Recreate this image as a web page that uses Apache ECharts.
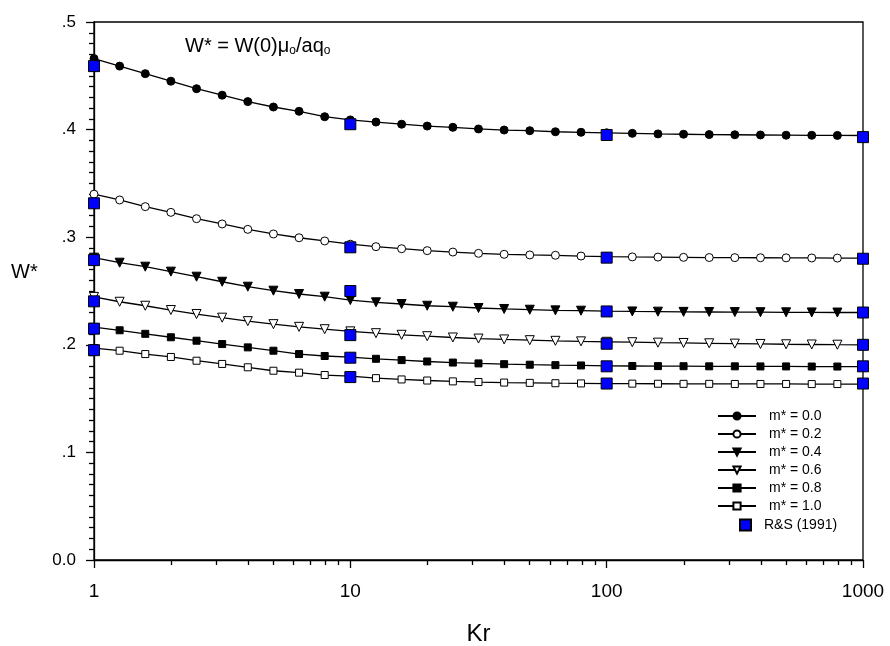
<!DOCTYPE html>
<html>
<head>
<meta charset="utf-8">
<script src="https://cdn.jsdelivr.net/npm/echarts@6/dist/echarts.min.js"></script>
<style>
  html, body { margin: 0; padding: 0; background: #fff; }
  #chart { width: 890px; height: 646px; }
</style>
</head>
<body>
<div id="chart"></div>
<script>
// Kr sample points, ten per decade from 1 to 1000
const kr = [
  1, 1.259, 1.585, 1.995, 2.512, 3.162, 3.981, 5.012, 6.310, 7.943,
  10, 12.59, 15.85, 19.95, 25.12, 31.62, 39.81, 50.12, 63.10, 79.43,
  100, 125.9, 158.5, 199.5, 251.2, 316.2, 398.1, 501.2, 631.0, 794.3,
  1000
];

// W* for each m*
const w_m00 = [
  0.466, 0.459, 0.452, 0.445, 0.438, 0.432, 0.426, 0.421, 0.417, 0.412,
  0.409, 0.407, 0.405, 0.4033, 0.4021, 0.4006, 0.3996, 0.3990, 0.3980, 0.3975,
  0.3970, 0.3965, 0.3960, 0.3957, 0.3954, 0.3952, 0.3950, 0.3948, 0.3947, 0.3946,
  0.3945
];
const w_m02 = [
  0.340, 0.3346, 0.3284, 0.3231, 0.3172, 0.3123, 0.3073, 0.3030, 0.2995, 0.2965,
  0.2935, 0.2912, 0.2893, 0.2875, 0.2862, 0.2850, 0.2841, 0.2835, 0.2832, 0.2825,
  0.2820, 0.2817, 0.2815, 0.2813, 0.2811, 0.2810, 0.2809, 0.2808, 0.2807, 0.2806,
  0.2805
];
const w_m04 = [
  0.281, 0.2763, 0.2726, 0.2680, 0.2633, 0.2586, 0.2540, 0.2503, 0.2472, 0.2447,
  0.2416, 0.2395, 0.2379, 0.2363, 0.2354, 0.2342, 0.2333, 0.2326, 0.2320, 0.2317,
  0.2313, 0.2310, 0.2308, 0.2306, 0.2305, 0.2304, 0.2303, 0.2302, 0.2301, 0.2300,
  0.2300
];
const w_m06 = [
  0.2445, 0.2400, 0.2363, 0.2323, 0.2286, 0.2252, 0.2220, 0.2192, 0.2167, 0.2145,
  0.2125, 0.2108, 0.2093, 0.2080, 0.2068, 0.2058, 0.2050, 0.2043, 0.2037, 0.2032,
  0.2028, 0.2024, 0.2020, 0.2017, 0.2014, 0.2011, 0.2008, 0.2005, 0.2003, 0.2001,
  0.2000
];
const w_m08 = [
  0.2165, 0.2135, 0.2102, 0.2070, 0.2038, 0.2007, 0.1976, 0.1945, 0.1914, 0.1896,
  0.1885, 0.1870, 0.1858, 0.1845, 0.1835, 0.1827, 0.1820, 0.1815, 0.1811, 0.1808,
  0.1805, 0.1803, 0.1802, 0.1801, 0.1800, 0.1800, 0.1799, 0.1799, 0.1798, 0.1798,
  0.1798
];
const w_m10 = [
  0.1970, 0.1945, 0.1914, 0.1887, 0.1852, 0.1822, 0.1791, 0.1759, 0.1741, 0.1719,
  0.1708, 0.1690, 0.1678, 0.1668, 0.1660, 0.1654, 0.1649, 0.1646, 0.1643, 0.1641,
  0.1640, 0.1639, 0.1638, 0.1637, 0.1637, 0.1636, 0.1636, 0.1636, 0.1635, 0.1635,
  0.1635
];

// R&S (1991) reference values at Kr = 1, 10, 100, 1000
const rsKr = [1, 10, 100, 1000];
const rs_m00 = [0.459, 0.405, 0.395, 0.393];
const rs_m02 = [0.3315, 0.2906, 0.281, 0.280];
const rs_m04 = [0.2787, 0.250, 0.231, 0.230];
const rs_m06 = [0.2404, 0.209, 0.201, 0.200];
const rs_m08 = [0.215, 0.188, 0.180, 0.180];
const rs_m10 = [0.195, 0.170, 0.164, 0.164];

const seriesNames = ['m* = 0.0', 'm* = 0.2', 'm* = 0.4', 'm* = 0.6', 'm* = 0.8', 'm* = 1.0'];
const rsName = 'R&S (1991)';

const xMinorTickValues = [2, 3, 4, 5, 6, 7, 8, 9, 20, 30, 40, 50, 60, 70, 80, 90, 200, 300, 400, 500, 600, 700, 800, 900];
const yTickLabels = ['0.0', '.1', '.2', '.3', '.4', '.5'];

const FONT = '"Liberation Sans", Arial, sans-serif';

const curves = [w_m00, w_m02, w_m04, w_m06, w_m08, w_m10];
const rsSets = [rs_m00, rs_m02, rs_m04, rs_m06, rs_m08, rs_m10];

// marker look per curve: shape, fill, rotation, size
const markerStyles = [
  { symbol: 'circle', fill: '#000', rotate: 0, size: 8 },
  { symbol: 'circle', fill: '#fff', rotate: 0, size: 8 },
  { symbol: 'triangle', fill: '#000', rotate: 180, size: 9 },
  { symbol: 'triangle', fill: '#fff', rotate: 180, size: 9 },
  { symbol: 'rect', fill: '#000', rotate: 0, size: 7 },
  { symbol: 'rect', fill: '#fff', rotate: 0, size: 7 }
];

const series = curves.map((vals, i) => ({
  name: seriesNames[i],
  type: 'line',
  xAxisIndex: 0,
  data: kr.map((k, j) => [k, vals[j]]),
  symbol: markerStyles[i].symbol,
  symbolSize: markerStyles[i].size,
  symbolRotate: markerStyles[i].rotate,
  showAllSymbol: true,
  lineStyle: { color: '#000', width: 1.3 },
  itemStyle: { color: markerStyles[i].fill, borderColor: '#000', borderWidth: 1 },
  emphasis: { disabled: true },
  animation: false,
  z: 2
}));

const rsPoints = [];
rsSets.forEach(set => set.forEach((v, j) => rsPoints.push([rsKr[j], v])));

series.push({
  name: rsName,
  type: 'scatter',
  xAxisIndex: 0,
  data: rsPoints,
  symbol: 'rect',
  symbolSize: 11,
  itemStyle: { color: '#0000ff', borderColor: '#000', borderWidth: 1, opacity: 1 },
  emphasis: { disabled: true },
  animation: false,
  z: 5
});

const chart = echarts.init(document.getElementById('chart'), null, { renderer: 'canvas' });

chart.setOption({
  backgroundColor: '#fff',
  animation: false,
  textStyle: { fontFamily: FONT, color: '#000' },
  grid: {
    left: 94, right: 27, top: 22, bottom: 86,
    containLabel: false, outerBoundsMode: 'none',
    show: true, borderColor: '#000', borderWidth: 1.3, backgroundColor: 'transparent'
  },
  xAxis: [
    {
      type: 'log', logBase: 10, min: 1, max: 1000,
      name: 'Kr', nameLocation: 'middle', nameGap: 62,
      nameTextStyle: { fontSize: 24, color: '#000', fontFamily: FONT },
      axisLine: { show: true, lineStyle: { color: '#000', width: 1.3 } },
      axisTick: { show: true, inside: false, length: 8, lineStyle: { color: '#000', width: 1.3 } },
      axisLabel: { show: true, margin: 22, fontSize: 19, color: '#000', fontFamily: FONT,
        formatter: v => String(Math.round(v)) },
      splitLine: { show: false },
      minorTick: { show: false }
    },
    {
      // decade subdivisions (2..9) placed on a log10 position scale
      type: 'value', min: 0, max: 3, position: 'bottom',
      axisLine: { show: true, lineStyle: { color: 'rgba(0,0,0,0)' } },
      axisTick: { show: true, inside: false, length: 5, lineStyle: { color: '#000', width: 1.3 },
        customValues: xMinorTickValues.map(v => Math.log10(v)) },
      axisLabel: { show: false },
      splitLine: { show: false }
    }
  ],
  yAxis: {
    type: 'value', min: 0, max: 0.5, interval: 0.1,
    axisLine: { show: true, lineStyle: { color: '#000', width: 1.3 } },
    axisTick: { show: true, inside: false, length: 8, lineStyle: { color: '#000', width: 1.3 } },
    minorTick: { show: true, splitNumber: 10, length: 5, lineStyle: { color: '#000', width: 1.3 } },
    axisLabel: { margin: 18, fontSize: 17, color: '#000', fontFamily: FONT,
      formatter: v => yTickLabels[Math.round(v * 10)] },
    splitLine: { show: false },
    minorSplitLine: { show: false }
  },
  legend: [
    {
      data: seriesNames,
      orient: 'vertical',
      left: 712, top: 404,
      itemWidth: 38, itemHeight: 9, itemGap: 4,
      selectedMode: false,
      textStyle: { fontSize: 14, color: '#000', fontFamily: FONT, padding: [0, 0, 0, 8] }
    },
    {
      data: [rsName],
      orient: 'vertical',
      left: 734, top: 513,
      itemWidth: 11, itemHeight: 11,
      selectedMode: false,
      textStyle: { fontSize: 14, color: '#000', fontFamily: FONT, padding: [0, 0, 0, 8] }
    }
  ],
  graphic: [
    {
      type: 'text', left: 11, top: 262,
      style: { text: 'W*', font: '20px ' + FONT, fill: '#000' }
    },
    {
      type: 'text', left: 185, top: 36,
      style: {
        text: 'W* = W(0)μ{s|o}/aq{s|o}',
        font: '20px ' + FONT, fill: '#000',
        rich: { s: { fontSize: 12, fontFamily: FONT, verticalAlign: 'bottom', padding: [9, 0, 0, 0] } }
      }
    }
  ],
  series: series
});
</script>
</body>
</html>
